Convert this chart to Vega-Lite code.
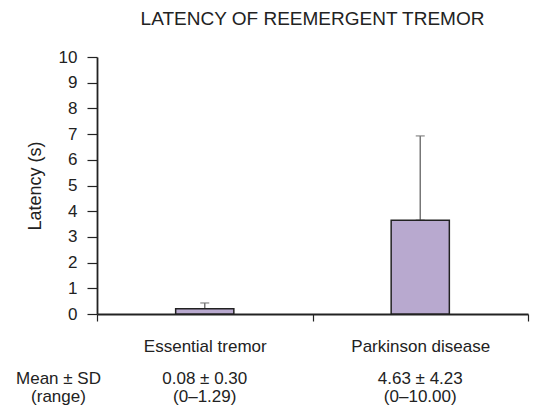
{
  "$schema": "https://vega.github.io/schema/vega-lite/v6.json",
  "autosize": {"type": "none"},
  "padding": {"left": 97, "top": 57, "right": 5, "bottom": 97},
  "width": 431,
  "height": 257,
  "background": "white",
  "config": {
    "font": "Liberation Sans",
    "view": {"stroke": null},
    "axis": {"labelFont": "Liberation Sans", "titleFont": "Liberation Sans", "labelColor": "#222", "titleColor": "#222", "domainColor": "#222", "tickColor": "#222", "grid": false}
  },
  "title": {
    "text": "LATENCY OF REEMERGENT TREMOR",
    "font": "Liberation Sans",
    "fontSize": 19,
    "fontWeight": "normal",
    "color": "#222",
    "anchor": "middle",
    "offset": 19
  },
  "data": {
    "values": [
      {"group": "Essential tremor", "mean": 0.2, "upper": 0.43, "stat": "0.08 ± 0.30", "range": "(0–1.29)"},
      {"group": "Parkinson disease", "mean": 3.65, "upper": 6.93, "stat": "4.63 ± 4.23", "range": "(0–10.00)"}
    ]
  },
  "encoding": {
    "y": {
      "field": "mean",
      "type": "quantitative",
      "scale": {"domain": [0, 10], "nice": false},
      "axis": {
        "title": "Latency (s)",
        "titleFontSize": 18,
        "titleFontWeight": "normal",
        "titlePadding": 14,
        "values": [0, 1, 2, 3, 4, 5, 6, 7, 8, 9, 10],
        "labelOverlap": false,
        "labelFontSize": 17,
        "labelPadding": 10,
        "tickSize": 10,
        "tickWidth": 1.2,
        "domainWidth": 1.8
      }
    }
  },
  "layer": [
    {
      "mark": {"type": "errorbar", "ticks": {"size": 9, "color": "#777", "thickness": 1.5}, "rule": {"color": "#777", "strokeWidth": 1.5}},
      "encoding": {
        "x": {
          "field": "group",
          "type": "nominal",
          "sort": null,
          "scale": {"paddingInner": 0, "paddingOuter": 0},
          "axis": {
            "orient": "bottom",
            "title": ["Mean ± SD", "(range)"],
            "titleFontSize": 17,
            "titleFontWeight": "normal",
            "titleAnchor": "start",
            "titleAlign": "center",
            "titleBaseline": "top",
            "titleX": -39,
            "titleY": 2,
            "titleLineHeight": 18,
            "offset": 54,
            "domain": false,
            "ticks": false,
            "labelAngle": 0,
            "labelFontSize": 17,
            "labelPadding": 2,
            "labelLineHeight": 18,
            "labelOverlap": false,
            "labelExpr": "datum.label == 'Essential tremor' ? ['0.08 ± 0.30', '(0–1.29)'] : datum.label == 'Parkinson disease' ? ['4.63 ± 4.23', '(0–10.00)'] : ''"
          }
        },
        "y2": {"field": "upper"}
      }
    },
    {
      "mark": {"type": "bar", "width": {"band": 0.27}, "fill": "#b8a9cf", "stroke": "#222", "strokeWidth": 1.5},
      "encoding": {
        "x": {
          "field": "group",
          "type": "nominal",
          "sort": null,
          "scale": {"paddingInner": 0, "paddingOuter": 0},
          "axis": {
            "orient": "bottom",
            "title": null,
            "labelAngle": 0,
            "labelFontSize": 17,
            "labelPadding": 17,
            "labelOverlap": false,
            "tickBand": "extent",
            "tickSize": 7,
            "tickWidth": 1.2,
            "domainWidth": 1.8
          }
        }
      }
    }
  ],
  "resolve": {"axis": {"x": "independent"}}
}
